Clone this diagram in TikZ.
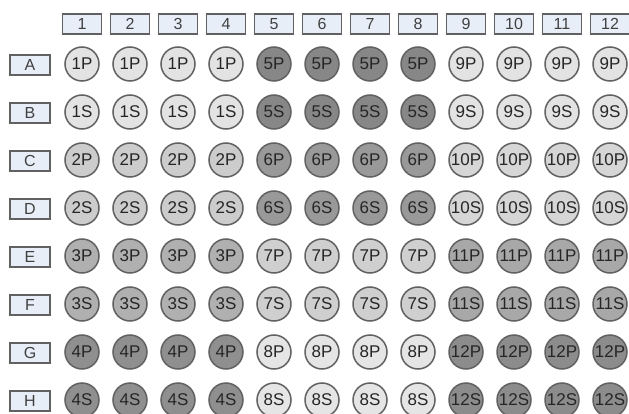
\documentclass[tikz,border=0pt]{standalone}
\usepackage{fontspec}
\setmainfont{Liberation Sans}

\definecolor{well1}{gray}{0.89}
\definecolor{well2}{gray}{0.80}
\definecolor{well3}{gray}{0.69}
\definecolor{well4}{gray}{0.56}
\definecolor{well5}{gray}{0.53}
\definecolor{well6}{gray}{0.60}
\definecolor{well7}{gray}{0.81}
\definecolor{well8}{gray}{0.90}
\definecolor{well9}{gray}{0.89}
\definecolor{well10}{gray}{0.84}
\definecolor{well11}{gray}{0.66}
\definecolor{well12}{gray}{0.55}
\definecolor{rim}{gray}{0.38}
\definecolor{tagfill}{RGB}{232,238,248}

\tikzset{
  well/.style={circle, draw=rim, line width=1.5pt, minimum size=34pt,
    inner sep=0pt, text=black!85, font=\fontsize{17}{17}\selectfont},
  tag/.style={rectangle, draw=rim, fill=tagfill, line width=1.4pt,
    minimum width=39pt, minimum height=20pt, inner sep=0pt,
    text=black!75, font=\fontsize{16}{16}\selectfont},
  rowtag/.style={tag, minimum width=40pt}
}

\begin{document}
\begin{tikzpicture}[x=1pt, y=-1pt]
    \useasboundingbox (0,0) rectangle (629,414);

    % column headers
    \foreach \c in {1,...,12}
        \node[tag] (col-\c) at ({82+48*(\c-1)}, 24) {\c};

    % row labels and wells
    \foreach \lbl [count=\r from 0] in {A,B,C,D,E,F,G,H} {
        \node[rowtag] (row-\lbl) at (30, {65+48*\r}) {\lbl};
        \foreach \c in {1,...,12} {
            \pgfmathtruncatemacro\grp{4*int((\c-1)/4)+int(\r/2)+1}
            \node[well, fill=well\grp] (well-\lbl\c)
                at ({82+48*(\c-1)}, {64+48*\r})
                {\grp\ifodd\r S\else P\fi};
        }
    }
\end{tikzpicture}
\end{document}
